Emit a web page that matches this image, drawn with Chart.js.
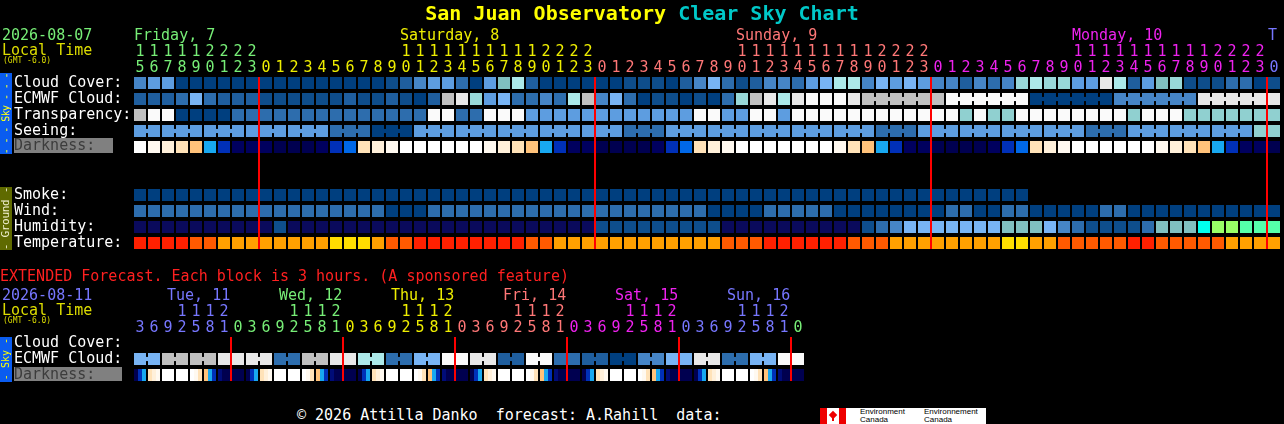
<!DOCTYPE html>
<html><head><meta charset="utf-8">
<script src="https://cdn.jsdelivr.net/npm/chart.js@4.4.1/dist/chart.umd.min.js"></script>
<style>
html,body{margin:0;padding:0;background:#000;}
#page{position:relative;width:1284px;height:424px;overflow:hidden;background:#000;font-family:'DejaVu Sans Mono',monospace;}
.t{position:absolute;white-space:pre;font-size:15px;line-height:16px;color:#fff;}
.bar{position:absolute;left:0;width:12px;display:flex;align-items:center;justify-content:center;overflow:hidden;}
.bar span{writing-mode:vertical-rl;transform:rotate(180deg);white-space:pre;font-family:'DejaVu Sans Mono',monospace;}
canvas{position:absolute;left:0;}
</style></head><body><div id="page">
<canvas id="topChart" width="1284" height="252" style="top:0;width:1284px;height:252px"></canvas>
<canvas id="extChart" width="1284" height="124" style="top:260px;width:1284px;height:124px"></canvas>

<div class="t" style="left:0;top:2px;width:1284px;text-align:center;font-size:20px;line-height:22px;font-weight:bold"><span style="color:#ffff00">San Juan Observatory</span> <span style="color:#00c8c8">Clear Sky Chart</span></div>

<div class="t" style="left:2px;top:27px;color:#77ee77">2026-08-07</div>
<div class="t" style="left:2px;top:42px;color:#dddd00">Local Time</div>
<div class="t" style="left:3px;top:57px;font-size:8px;line-height:8px;color:#dddd00">(GMT -6.0)</div>
<div class="t" style="left:134px;top:27px;color:#77ee77">Friday, 7</div>
<div class="t" style="left:400px;top:27px;color:#eeee00">Saturday, 8</div>
<div class="t" style="left:736px;top:27px;color:#ff7777">Sunday, 9</div>
<div class="t" style="left:1072px;top:27px;color:#ee22ee">Monday, 10</div>
<div class="t" style="left:1268px;top:27px;color:#7777ff">T</div>

<div class="bar" style="top:73px;height:81px;background:#0a5cf0"><span style="font-size:10px;line-height:12px;letter-spacing:-0.6px;color:#ffff00">- - - Sky - - -</span></div>
<div class="t" style="left:14px;top:74px">Cloud Cover:</div>
<div class="t" style="left:14px;top:90px">ECMWF Cloud:</div>
<div class="t" style="left:14px;top:106px">Transparency:</div>
<div class="t" style="left:14px;top:122px">Seeing:</div>
<div class="t" style="left:14px;top:138px;height:15px;line-height:15px;background:#808080;color:#3c3c3c">Darkness:  </div>

<div class="bar" style="top:187px;height:63px;background:#5f6a00"><span style="font-size:11px;line-height:12px;letter-spacing:-0.3px;color:#f0f0d0">- Ground -</span></div>
<div class="t" style="left:14px;top:186px">Smoke:</div>
<div class="t" style="left:14px;top:202px">Wind:</div>
<div class="t" style="left:14px;top:218px">Humidity:</div>
<div class="t" style="left:14px;top:234px">Temperature:</div>

<div class="t" style="left:0;top:268px;color:#ff2020">EXTENDED Forecast. Each block is 3 hours. (A sponsored feature)</div>
<div class="t" style="left:2px;top:287px;color:#7777ff">2026-08-11</div>
<div class="t" style="left:2px;top:302px;color:#dddd00">Local Time</div>
<div class="t" style="left:3px;top:317px;font-size:8px;line-height:8px;color:#dddd00">(GMT -6.0)</div>
<div class="t" style="left:167px;top:287px;color:#7777ff">Tue, 11</div>
<div class="t" style="left:279px;top:287px;color:#77ee77">Wed, 12</div>
<div class="t" style="left:391px;top:287px;color:#eeee00">Thu, 13</div>
<div class="t" style="left:503px;top:287px;color:#ff7777">Fri, 14</div>
<div class="t" style="left:615px;top:287px;color:#ee22ee">Sat, 15</div>
<div class="t" style="left:727px;top:287px;color:#7777ff">Sun, 16</div>

<div class="bar" style="top:337px;height:45px;background:#0a5cf0"><span style="font-size:10px;line-height:12px;color:#ffff00">- Sky -</span></div>
<div class="t" style="left:14px;top:334px">Cloud Cover:</div>
<div class="t" style="left:14px;top:350px">ECMWF Cloud:</div>
<div class="t" style="left:14px;top:367px;height:14px;line-height:14px;background:#808080;color:#3c3c3c">Darkness:   </div>

<div class="t" style="left:297px;top:407px">© 2026 Attilla Danko  forecast: A.Rahill  data:</div>
<div style="position:absolute;left:820px;top:408px;width:166px;height:16px;background:#fff;">
  <div style="position:absolute;left:0;top:0;width:7px;height:16px;background:#ee0000"></div>
  <div style="position:absolute;left:19px;top:0;width:7px;height:16px;background:#ee0000"></div>
  <div style="position:absolute;left:10px;top:4px;width:6px;height:6px;background:#ee0000;transform:rotate(45deg)"></div>
  <div style="position:absolute;left:12px;top:9px;width:2px;height:4px;background:#ee0000"></div>
  <div class="t" style="left:40px;top:0;font-size:8px;line-height:8px;color:#000;font-family:'Liberation Sans',sans-serif">Environment
Canada</div>
  <div class="t" style="left:104px;top:0;font-size:8px;line-height:8px;color:#000;font-family:'Liberation Sans',sans-serif">Environnement
Canada</div>
</div>
</div>
<script>
// ---------- categories (tick labels) ----------
const topHours = [15,16,17,18,19,20,21,22,23,
  0,1,2,3,4,5,6,7,8,9,10,11,12,13,14,15,16,17,18,19,20,21,22,23,
  0,1,2,3,4,5,6,7,8,9,10,11,12,13,14,15,16,17,18,19,20,21,22,23,
  0,1,2,3,4,5,6,7,8,9,10,11,12,13,14,15,16,17,18,19,20,21,22,23,
  0];
const extHours = [3,6,9,12,15,18,21,
  0,3,6,9,12,15,18,21,
  0,3,6,9,12,15,18,21,
  0,3,6,9,12,15,18,21,
  0,3,6,9,12,15,18,21,
  0,3,6,9,12,15,18,21,
  0];

// ---------- series values (forecast levels per block) ----------
const cloudCover = [4,5,5,0,0,0,0,0,0,0, 0,0,0,0,0,0,0,0,1,2, 4,5,5,3,0,5,7,9,2,0, 0,0,0,0,0,1,1,1,0,2,
  4,6,3,1,2,4,4,3,5,6, 9,9,4,6,5,6,5,4,4,2, 4,3,4,8,9,8,8,5,5,11, 9,2,5,7,8,1,1,1,3,3, 0,1];
const ecmwfCloud = [2,2,2,3,6,3,2,2,2,1, 1,1,1,1,1,2,1,1,2,1, 0,2,10,11,8,5,6,3,3,4, 3,9,10,4,6,3,0,1,1,0,
  1,0,3,8,10,11,9,11,12,12, 12,11,10,10,10,10,10,10,12,12, 12,12,12,12,0,0,0,0,0,0, 4,4,4,4,4,4,11,11,11,11, 11,11];
const transparency = [4,5,5,0,0,0,0,1,1,1, 1,1,1,1,1,1,1,1,1,1, 1,5,5,1,1,5,5,5,2,2, 2,2,2,2,2,2,2,2,2,2,
  5,5,2,2,5,5,2,5,5,5, 5,5,5,5,5,5,5,5,5,3, 5,3,3,5,5,5,5,5,5,5, 5,3,5,5,5,3,3,3,3,3, 3,3];
const seeing = [2,2,2,2,2,2,2,2,2,2, 2,2,2,2,1,1,1,0,0,0, 2,2,2,2,2,2,2,2,2,2, 2,2,2,2,2,1,1,1,2,2,
  2,2,2,2,2,2,2,2,2,2, 2,2,2,1,1,1,2,2,2,2, 2,2,2,2,2,2,2,2,1,1, 1,2,2,2,2,2,2,2,2,2, 3,3];
const darkness = [0,1,2,3,4,5,7,9,9,9, 10,10,10,9,7,6,3,2,1,0, 0,0,0,0,0,1,2,3,4,5, 7,9,9,10,10,10,10,9,7,6,
  3,2,1,0,0,0,0,0,0,0, 1,3,4,5,7,9,9,10,10,10, 10,9,7,6,3,2,1,0,0,0, 0,0,0,1,2,3,4,5,7,9, 9,10];
const smoke = [0,0,0,0,0,0,0,0,0,0, 0,0,0,0,0,0,0,0,0,0, 0,0,0,0,0,0,0,0,0,0, 0,0,0,0,0,0,0,0,0,0,
  0,0,0,0,0,0,0,0,0,0, 0,0,0,0,0,0,0,0,0,0, 0,0,0,0];
const wind = [1,1,1,1,1,1,1,1,1,1, 1,1,1,1,1,1,1,1,0,0, 0,1,1,1,1,1,1,1,1,1, 1,1,1,1,1,1,1,1,1,1,
  1,0,0,0,0,1,1,1,1,1, 0,0,0,0,0,0,0,0,1,1, 0,0,1,1,0,0,0,0,0,1, 1,0,0,0,0,0,0,0,0,0, 0,0];
const humidity = [0,0,0,0,0,0,0,0,0,0, 1,0,0,0,0,0,0,0,0,0, 0,0,0,0,0,0,0,0,0,0, 0,0,0,1,1,1,1,1,1,1,
  1,1,0,0,0,0,0,0,0,0, 0,0,1,2,3,4,4,4,4,4, 4,4,5,5,5,4,3,2,1,1, 1,1,2,5,5,5,6,8,8,7, 7,7];
const temperature = [0,0,0,0,1,1,2,2,2,2, 2,2,2,2,3,3,3,2,1,1, 0,0,0,0,0,0,0,0,1,1, 2,2,2,2,2,2,2,2,2,2,
  2,2,1,1,1,0,0,0,0,0, 0,1,1,1,2,2,2,2,2,2, 2,2,3,3,2,2,1,1,1,1, 1,0,0,1,1,1,1,1,2,2, 2,2];

const extEcmwf = [6,6,10,10,10,10,11,11,11,11, 3,3,10,10,11,11,9,9,3,3, 6,6,12,12,11,11,2,2,12,12,
  3,3,2,2,0,0,4,4,6,6, 11,11,3,3,6,6,12,12];
// darkness inside each 3-hour block, one level per hour
const extDarkness = [
  [10,7,5],[3,2,1],[0,0,0],[0,0,0],[0,1,3],[4,5,7],[8,10,10],
  [10,10,10],[10,7,5],[3,2,1],[0,0,0],[0,0,0],[0,1,3],[4,5,7],[8,10,10],
  [10,10,10],[10,7,5],[3,2,1],[0,0,0],[0,0,0],[0,1,3],[4,5,7],[8,10,10],
  [10,10,10],[10,7,5],[3,2,1],[0,0,0],[0,0,0],[0,1,3],[4,5,7],[8,10,10],
  [10,10,10],[10,7,5],[3,2,1],[0,0,0],[0,0,0],[0,1,3],[4,5,7],[8,10,10],
  [10,10,10],[10,7,5],[3,2,1],[0,0,0],[0,0,0],[0,1,3],[4,5,7],[8,10,10],
  [10,10,10]];

// ---------- palettes (styles) ----------
const cloudPalette = ['#003f7f','#0e4d8b','#1f5e9e','#2d6dad','#4685c6','#5d9de0','#78b4f4',
  '#80c0c0','#98d8d8','#ace9e9','#c0c0c0','#e8e8e8','#fafafa'];
const skyQualityPalette = ['#003f7f','#2d6dad','#5d9de0','#90d0d0','#c0c0c0','#fafafa'];
const darkPalette = ['#ffffff','#fff9f0','#fff0da','#ffe2b8','#ffc27a','#18a8f0','#0068e8',
  '#0030b8','#000c78','#00005e','#000050'];
const smokePalette = ['#003f7f'];
const windPalette = ['#003f7f','#2d6dad'];
const humidityPalette = ['#0a0a5c','#0e4e8c','#2d6dad','#4685c6','#78b4f4','#80c0c0','#00ffee','#55ffaa','#99ff66'];
const tempPalette = ['#ff2000','#ff5a00','#ffa000','#ffdd00'];
const dayColorsTop = ['#77ee77','#eeee00','#ff7777','#ee22ee','#7777ff'];
const dayColorsExt = ['#7777ff','#77ee77','#eeee00','#ff7777','#ee22ee','#7777ff','#77ee77'];

// ---------- helpers ----------
const HALF = 0.375, LINK = 0.13;
function dayIndexOf(hours){ let d=0; return hours.map((h,i)=>{ if(i>0 && h===0) d++; return d; }); }
function blocks(values,row,palette){
  return {data:values.map((v,i)=>({x:i+0.5,y:[row-HALF,row+HALF]})),
    backgroundColor:values.map(v=>palette[v]),barThickness:12};
}
function links(values,row,palette,hours,isGroupStart,fromIndex){
  const data=[],colors=[];
  for(let i=fromIndex;i<values.length-1;i++){
    if(values[i]===values[i+1] && !isGroupStart(hours[i+1])){
      data.push({x:i+1,y:[row-LINK,row+LINK]}); colors.push(palette[values[i]]);
    }
  }
  return {data,backgroundColor:colors,barThickness:4};
}
function midnights(hours,y0,y1){
  const data=[]; hours.forEach((h,i)=>{ if(h===0) data.push({x:i,y:[y0,y1]}); });
  return {data,backgroundColor:'#ff0000',barThickness:2,order:-1};
}
function hourAxis(hours,dayColors){
  const dayIdx=dayIndexOf(hours);
  return {type:'linear',position:'top',min:0,max:hours.length,offset:false,
    grid:{display:false,drawTicks:false},border:{display:false},
    afterBuildTicks:(axis)=>{ axis.ticks=hours.map((h,i)=>({value:i+0.5})); },
    afterFit:(axis)=>{ axis.height=75; },
    ticks:{autoSkip:false,maxRotation:0,minRotation:0,padding:-1,
      font:{family:'DejaVu Sans Mono',size:15,lineHeight:'16px'},
      color:(c)=>dayColors[dayIdx[c.index]]||'#fff',
      callback:(v,i)=>{ const h=hours[i]; return h>=10?[String(Math.floor(h/10)),String(h%10)]:['',String(h)]; }}
  };
}
function finish(ds){
  return ds.map(d=>Object.assign({type:'bar',stack:'s',borderWidth:0,inflateAmount:0,borderSkipped:false},d));
}
function makeChart(id,datasets,hours,dayColors,rows,padRight){
  return new Chart(document.getElementById(id),{
    type:'bar',
    data:{datasets:finish(datasets)},
    options:{responsive:false,animation:false,events:[],
      layout:{padding:{left:133,right:padRight,top:0,bottom:1}},
      plugins:{legend:{display:false},tooltip:{enabled:false}},
      scales:{x:hourAxis(hours,dayColors),
        y:{type:'linear',reverse:true,min:-0.5,max:rows-0.5,display:false,stacked:false}}}
  });
}

// ---------- top chart ----------
const seeingGroupStart = h => h%3===2;
const ecmwfGroupStart = h => h%6===1;
makeChart('topChart',[
  midnights(topHours,-HALF,10+HALF),
  blocks(cloudCover,0,cloudPalette),
  blocks(ecmwfCloud,1,cloudPalette),
  links(ecmwfCloud,1,cloudPalette,topHours,ecmwfGroupStart,52),
  blocks(transparency,2,skyQualityPalette),
  blocks(seeing,3,skyQualityPalette),
  links(seeing,3,skyQualityPalette,topHours,seeingGroupStart,0),
  blocks(darkness,4,darkPalette),
  blocks(smoke,7,smokePalette),
  blocks(wind,8,windPalette),
  blocks(humidity,9,humidityPalette),
  blocks(temperature,10,tempPalette)
],topHours,dayColorsTop,11,3);

// ---------- extended chart ----------
const extGroupStart = h => h%6===3;
const extDarkData=[],extDarkColors=[];
extDarkness.forEach((sub,i)=>sub.forEach((v,k)=>{
  extDarkData.push({x:i+(3+4*k)/14,y:[2-HALF,2+HALF]}); extDarkColors.push(darkPalette[v]);
}));
makeChart('extChart',[
  midnights(extHours,-HALF,2+HALF),
  blocks(extEcmwf,1,cloudPalette),
  links(extEcmwf,1,cloudPalette,extHours,extGroupStart,0),
  {data:extDarkData,backgroundColor:extDarkColors,barThickness:4}
],extHours,dayColorsExt,3,1284-133-14*48);
</script>
</body></html>
